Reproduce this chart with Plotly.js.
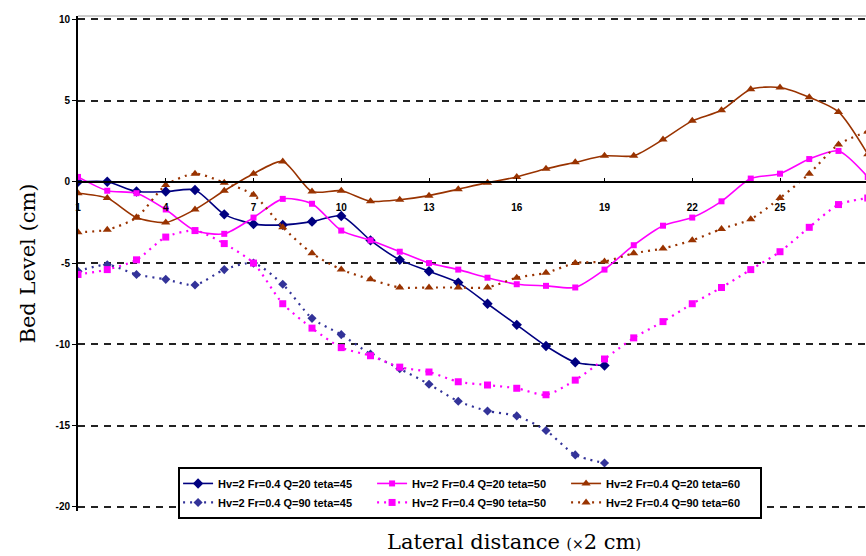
<!DOCTYPE html>
<html>
<head>
<meta charset="utf-8">
<script src="https://cdn.plot.ly/plotly-3.0.1.min.js"></script>
<style>html,body{margin:0;padding:0;background:#fff;}#chart{width:866px;height:556px;}</style>
</head>
<body>
<div id="chart"></div>
<script>
const xs = [1,2,3,4,5,6,7,8,9,10,11,12,13,14,15,16,17,18,19,20,21,22,23,24,25,26,27,28];
const xShort = [1,2,3,4,5,6,7,8,9,10,11,12,13,14,15,16,17,18,19];
const xTicks = [1,4,7,10,13,16,19,22,25,28];
const yTicks = [-20,-15,-10,-5,0,5,10];

const names = [
  "Hv=2 Fr=0.4 Q=20 teta=45",
  "Hv=2 Fr=0.4 Q=20 teta=50",
  "Hv=2 Fr=0.4 Q=20 teta=60",
  "Hv=2 Fr=0.4 Q=90 teta=45",
  "Hv=2 Fr=0.4 Q=90 teta=50",
  "Hv=2 Fr=0.4 Q=90 teta=60"
];

const q20t45 = [0.0, 0.0, -0.6, -0.6, -0.5, -2.0, -2.6, -2.65, -2.45, -2.1, -3.6, -4.8, -5.5, -6.2, -7.5, -8.8, -10.1, -11.1, -11.3];
const q20t50 = [0.3, -0.55, -0.7, -1.7, -3.0, -3.2, -2.2, -1.05, -1.35, -3.0, -3.6, -4.3, -5.0, -5.4, -5.9, -6.3, -6.4, -6.5, -5.4, -3.9, -2.7, -2.2, -1.2, 0.2, 0.5, 1.4, 1.9, 0.3];
const q20t60 = [-0.7, -1.0, -2.2, -2.5, -1.7, -0.55, 0.5, 1.25, -0.6, -0.55, -1.2, -1.1, -0.85, -0.45, -0.05, 0.3, 0.8, 1.2, 1.6, 1.6, 2.6, 3.75, 4.4, 5.7, 5.8, 5.2, 4.3, 1.7];
const q90t45 = [-5.5, -5.1, -5.7, -6.0, -6.35, -5.4, -5.0, -6.3, -8.4, -9.4, -10.6, -11.5, -12.45, -13.5, -14.1, -14.4, -15.3, -16.8, -17.3];
const q90t50 = [-5.7, -5.4, -4.8, -3.4, -3.0, -3.8, -5.0, -7.5, -9.0, -10.2, -10.7, -11.4, -11.7, -12.3, -12.5, -12.7, -13.1, -12.2, -10.9, -9.6, -8.6, -7.5, -6.5, -5.4, -4.3, -2.8, -1.4, -1.0];
const q90t60 = [-3.1, -2.95, -2.2, -0.2, 0.5, -0.05, -0.8, -2.8, -4.4, -5.4, -6.0, -6.5, -6.5, -6.5, -6.5, -5.9, -5.6, -5.0, -4.9, -4.4, -4.1, -3.6, -2.9, -2.3, -1.0, 0.5, 2.3, 3.1];

const navy = '#000080', blueDot = '#333399', mag = '#ff00ff', brown = '#993300';

function tr(x, y, name, group, color, symbol, size, dash) {
  return {
    x: x, y: y, name: name, legendgroup: group, type: 'scatter', mode: 'lines+markers',
    line: {color: color, width: dash === 'solid' ? 1.6 : 2.2, dash: dash, shape: 'spline', smoothing: 0.7},
    marker: {color: color, symbol: symbol, size: size},
    cliponaxis: true
  };
}

const data = [
  tr(xShort, q20t45, names[0], 'a', navy, 'diamond', 8, 'solid'),
  tr(xs, q20t50, names[1], 'b', mag, 'square', 6, 'solid'),
  tr(xs, q20t60, names[2], 'c', brown, 'triangle-up', 8, 'solid'),
  tr(xShort, q90t45, names[3], 'a', blueDot, 'diamond', 7, '2px,5px'),
  tr(xs, q90t50, names[4], 'b', mag, 'square', 7, '2px,5px'),
  tr(xs, q90t60, names[5], 'c', brown, 'triangle-up', 8, '2px,5px')
];

const yMin = -20.25, yMax = 10.2;

const layout = {
  width: 866, height: 556,
  margin: {l: 78, r: 0, t: 16, b: 45, autoexpand: false},
  paper_bgcolor: '#fff', plot_bgcolor: '#fff',
  showlegend: true,
  legend: {
    orientation: 'h', traceorder: 'grouped', x: 0.127, xanchor: 'left', y: 0.089, yanchor: 'top',
    entrywidth: 149, entrywidthmode: 'pixels',
    bgcolor: '#fff', bordercolor: '#000', borderwidth: 2,
    font: {family: 'Liberation Sans, Arial', size: 11, color: '#000', weight: 'bold'},
    tracegroupgap: 0, itemwidth: 30
  },
  xaxis: {
    range: [1, 27.94], anchor: 'free', position: (0 - yMin) / (yMax - yMin),
    tickvals: xTicks, ticktext: xTicks.map(String),
    showgrid: false, zeroline: false,
    showline: true, linecolor: '#000', linewidth: 2,
    ticks: 'inside', ticklen: 3, tickcolor: '#000',
    ticklabelstandoff: 16,
    tickfont: {family: 'Liberation Sans, Arial', size: 10, color: '#000', weight: 'bold'}
  },
  yaxis: {
    range: [yMin, yMax], tickvals: yTicks, ticktext: yTicks.map(String),
    showgrid: true, gridcolor: '#222', gridwidth: 2, griddash: '7px,6px',
    zeroline: false,
    showline: true, linecolor: '#000', linewidth: 2,
    ticks: 'outside', ticklen: 4, tickcolor: '#000',
    tickfont: {family: 'Liberation Sans, Arial', size: 10, color: '#000', weight: 'bold'},
    title: {text: 'Bed Level (cm)', font: {family: 'DejaVu Serif', size: 21, color: '#000'}, standoff: 14}
  },
  shapes: [{
    type: 'line', xref: 'paper', yref: 'paper', x0: 0, x1: 1, y0: 1, y1: 1,
    line: {color: '#999', width: 1}, layer: 'below'
  }],
  annotations: [{
    xref: 'paper', yref: 'paper', x: 0.553, y: -0.062, xanchor: 'center', yanchor: 'middle',
    showarrow: false,
    text: "Lateral distance <span style='font-size:14px'>(×</span>2 cm<span style='font-size:14px'>)</span>",
    font: {family: 'DejaVu Serif', size: 21, color: '#000'}
  }]
};

Plotly.newPlot('chart', data, layout, {displayModeBar: false, staticPlot: true});
</script>
</body>
</html>
